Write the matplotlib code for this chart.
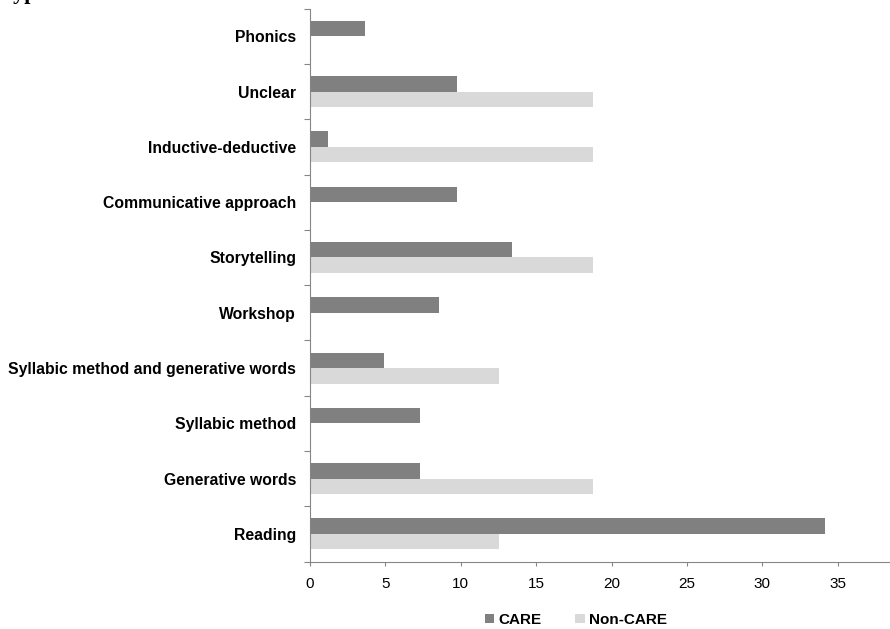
import matplotlib.pyplot as plt
import numpy as np

# Teaching methods, listed bottom to top
methods = ["Reading", "Generative words", "Syllabic method",
           "Syllabic method and generative words", "Workshop", "Storytelling",
           "Communicative approach", "Inductive-deductive", "Unclear", "Phonics"]
care = [34.15, 7.32, 7.32, 4.88, 8.54, 13.41, 9.76, 1.22, 9.76, 3.66]
non_care = [12.5, 18.75, 0, 12.5, 0, 18.75, 0, 18.75, 18.75, 0]
x_ticks = [0, 5, 10, 15, 20, 25, 30, 35]

plt.rcParams['font.family'] = ['Liberation Sans', 'DejaVu Sans']

fig = plt.figure(figsize=(8.9, 6.29), dpi=100)
ax = fig.add_axes([310 / 890, 1 - 561.6 / 629, (40 * 15.08) / 890, (561.6 - 8.6) / 629])

y = np.arange(len(methods))
h = 0.28
ax.barh(y + h / 2, care, height=h, color='#808080', label='CARE')
ax.barh(y - h / 2, non_care, height=h, color='#d9d9d9', label='Non-CARE')

ax.set_xlim(0, 40)
ax.set_ylim(-0.5, len(methods) - 0.5)
ax.set_xticks(x_ticks)
ax.tick_params(axis='x', direction='out', length=3, color='#868686', labelsize=11, pad=8)

# category boundaries as tick marks, names at centres
ax.set_yticks(np.arange(-0.5, len(methods), 1))
ax.set_yticklabels([])
ax.tick_params(axis='y', which='major', direction='out', length=4, color='#868686')
ax.set_yticks(y, minor=True)
ax.set_yticklabels(methods, minor=True, fontweight='bold', fontsize=11.3)
ax.tick_params(axis='y', which='minor', length=0, pad=10)

for s in ['top', 'right']:
    ax.spines[s].set_visible(False)
for s in ['left', 'bottom']:
    ax.spines[s].set_color('#868686')

fig.legend(loc='center', bbox_to_anchor=(576 / 890, 1 - 620 / 629), ncol=2, frameon=False,
           prop={'weight': 'bold', 'size': 11}, handlelength=0.6, handleheight=0.6,
           handletextpad=0.3, columnspacing=2.2)

# clipped title at the very top, only descenders visible
fig.text(0.001, 1 + 1 / 629, "Types", fontsize=16, fontweight='bold',
         family=['Liberation Serif', 'DejaVu Serif'], va='baseline', ha='left')

fig.savefig('out.png', dpi=100)
